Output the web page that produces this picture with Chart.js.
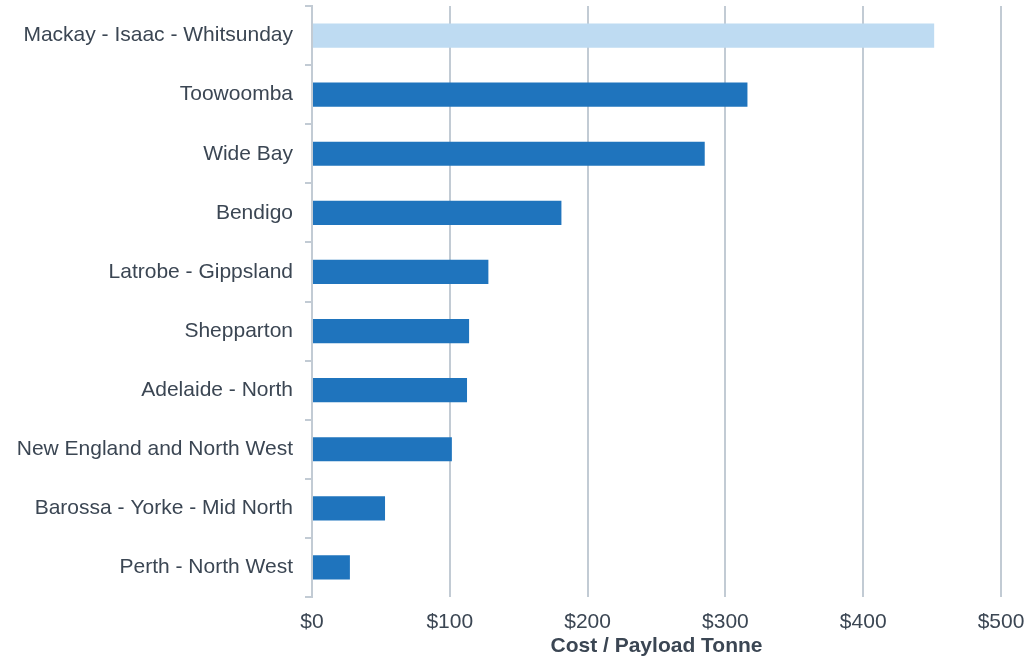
<!DOCTYPE html>
<html>
<head>
<meta charset="utf-8">
<script src="https://cdn.jsdelivr.net/npm/chart.js@4.4.1/dist/chart.umd.min.js"></script>
<style>
html,body{margin:0;padding:0;background:#fff;}
#wrap{width:1029px;height:659px;position:relative;}
</style>
</head>
<body>
<div id="wrap"><canvas id="c" width="1029" height="659"></canvas></div>
<script>
const categories = ["Mackay - Isaac - Whitsunday","Toowoomba","Wide Bay","Bendigo","Latrobe - Gippsland","Shepparton","Adelaide - North","New England and North West","Barossa - Yorke - Mid North","Perth - North West"];
const costValues = [451.5, 316, 285, 181, 128, 114, 112.5, 101.5, 53, 27.5];
const barColors = ["#bedbf2","#1f74bd","#1f74bd","#1f74bd","#1f74bd","#1f74bd","#1f74bd","#1f74bd","#1f74bd","#1f74bd"];
const xTickValues = [0,100,200,300,400,500];
const xTitle = "Cost / Payload Tonne";

const textColor = "#3b4653";
const gridColor = "#c2cbd4";

new Chart(document.getElementById('c'), {
  type: 'bar',
  data: {
    labels: categories,
    datasets: [{
      data: costValues,
      backgroundColor: barColors,
      borderWidth: 0,
      barPercentage: 0.41,
      categoryPercentage: 1.0
    }]
  },
  options: {
    indexAxis: 'y',
    responsive: false,
    animation: false,
    devicePixelRatio: 1,
    layout: { padding: { top: 6, right: 28, left: 0, bottom: 0 } },
    plugins: { legend: { display: false }, tooltip: { enabled: false } },
    scales: {
      x: {
        min: 0, max: 500,
        afterBuildTicks: (axis) => { axis.ticks = xTickValues.map(v => ({ value: v })); },
        afterFit: (axis) => { axis.height = 62; axis.paddingLeft = 0; axis.paddingRight = 0; },
        grid: { color: gridColor, lineWidth: 2, drawTicks: false },
        border: { display: false },
        ticks: {
          color: textColor,
          font: { family: "'Liberation Sans', Arial, sans-serif", size: 21 },
          padding: 13,
          callback: (v) => '$' + v
        },
        title: {
          display: true, text: xTitle, color: textColor,
          font: { family: "'Liberation Sans', Arial, sans-serif", size: 21, weight: 'bold' },
          padding: { top: 0, bottom: 0 }
        }
      },
      y: {
        afterFit: (axis) => { axis.width = 312; axis.paddingTop = 0; axis.paddingBottom = 0; },
        grid: { display: true, drawOnChartArea: false, offset: true, color: gridColor, lineWidth: 2, tickLength: 7 },
        border: { display: true, color: gridColor, width: 2 },
        ticks: {
          color: textColor,
          font: { family: "'Liberation Sans', Arial, sans-serif", size: 21 },
          padding: 12
        }
      }
    }
  }
});
</script>
</body>
</html>
